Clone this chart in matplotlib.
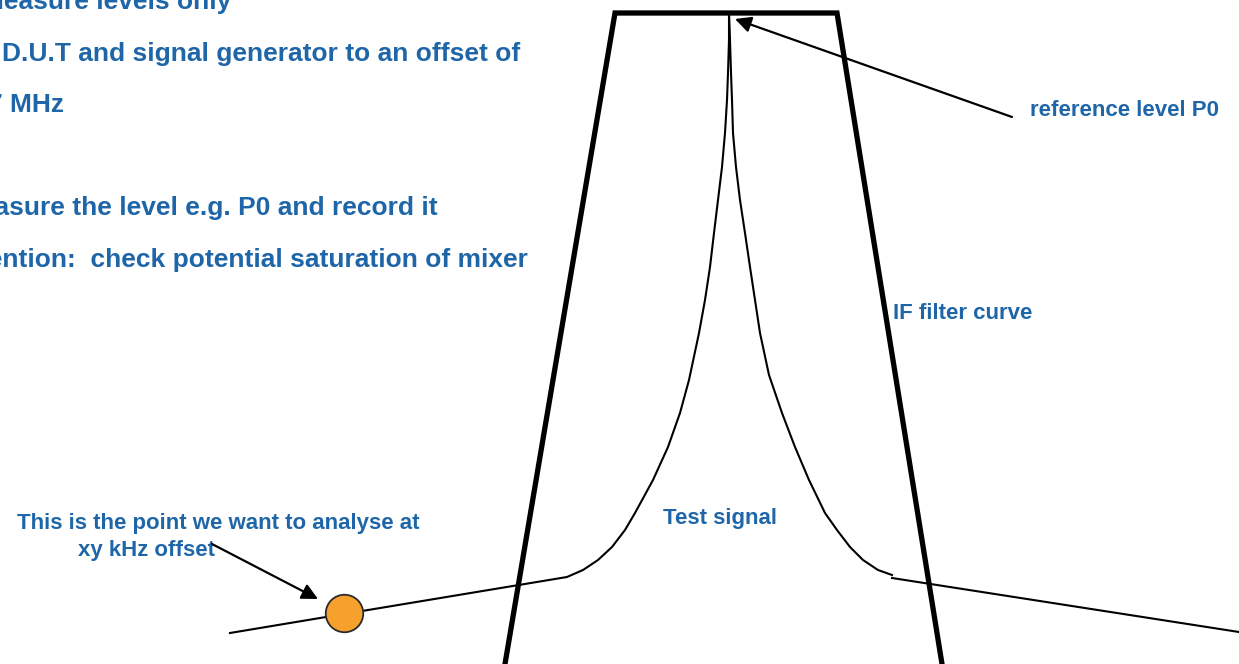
import numpy as np
import matplotlib.pyplot as plt

plt.rcParams['font.family'] = ['Liberation Sans', 'DejaVu Sans']

# picture coordinates (x right, y down)
filter_x = [505, 615, 837, 942]
filter_y = [664, 13, 13, 664]

signal_x = [230, 344, 567, 583, 598, 612, 625, 635, 653, 668, 680, 689,
            699, 705, 710, 714, 718, 722, 725, 727, 728, 729, 729,
            730, 731, 732, 733, 736, 740, 745, 750, 755, 760, 769, 782, 795,
            809, 825, 837, 850, 863, 878, 892]
signal_y = [633, 614, 577, 570, 560, 547, 530, 513, 480, 447, 413, 380,
            333, 300, 267, 233, 200, 167, 133, 100, 73, 40, 13,
            40, 73, 100, 133, 167, 200, 233, 267, 300, 333, 375, 413, 447,
            480, 513, 530, 547, 560, 570, 575]

tail_x = [892, 1239]
tail_y = [578, 632]

point_x = 344
point_y = 613

notes = ["Measure levels only",
         "D.U.T and signal generator to an offset of",
         "7 MHz",
         "Measure the level e.g. P0 and record it",
         "Attention:  check potential saturation of mixer"]
notes_right = [231, 526, 64, 438, 528]
notes_base = [9, 61, 112, 215, 267]

blue = '#1f66a8'

fig = plt.figure(figsize=(12.39, 6.64), dpi=100)
ax = fig.add_axes([0, 0, 1, 1])
ax.set_xlim(0, 1239)
ax.set_ylim(664, 0)
ax.axis('off')

ax.plot(filter_x, filter_y, color='black', lw=3.8, solid_joinstyle='miter')
ax.plot(signal_x, signal_y, color='black', lw=1.5, solid_joinstyle='round')
ax.plot(tail_x, tail_y, color='black', lw=1.5)
ax.plot(point_x, point_y, 'o', ms=27, mfc='#f6a12e', mec='#2a2a2a', mew=1.3)

for txt, xr, yb in zip(notes, notes_right, notes_base):
    if txt.startswith("D.U.T"):
        ax.text(2, yb, txt, ha='left', va='baseline', fontsize=19,
                fontweight='bold', color=blue)
    else:
        ax.text(xr, yb, txt, ha='right', va='baseline', fontsize=19,
                fontweight='bold', color=blue)

ax.text(1030, 116, "reference level P0", ha='left', va='baseline', fontsize=16,
        fontweight='bold', color=blue)
ax.text(893, 319, "IF filter curve", ha='left', va='baseline', fontsize=16,
        fontweight='bold', color=blue)
ax.text(720, 524, "Test signal", ha='center', va='baseline', fontsize=16,
        fontweight='bold', color=blue)
ax.text(218, 529, "This is the point we want to analyse at", ha='center',
        va='baseline', fontsize=16, fontweight='bold', color=blue)
ax.text(78, 556, "xy kHz offset", ha='left', va='baseline', fontsize=16,
        fontweight='bold', color=blue)

arrow = dict(arrowstyle='-|>', color='black', lw=1.6, mutation_scale=24,
             shrinkA=0, shrinkB=0)
ax.annotate("", xy=(735, 19), xytext=(1012, 117), arrowprops=arrow)
ax.annotate("", xy=(318, 599), xytext=(212, 544), arrowprops=arrow)

fig.savefig('out.png', dpi=100)
